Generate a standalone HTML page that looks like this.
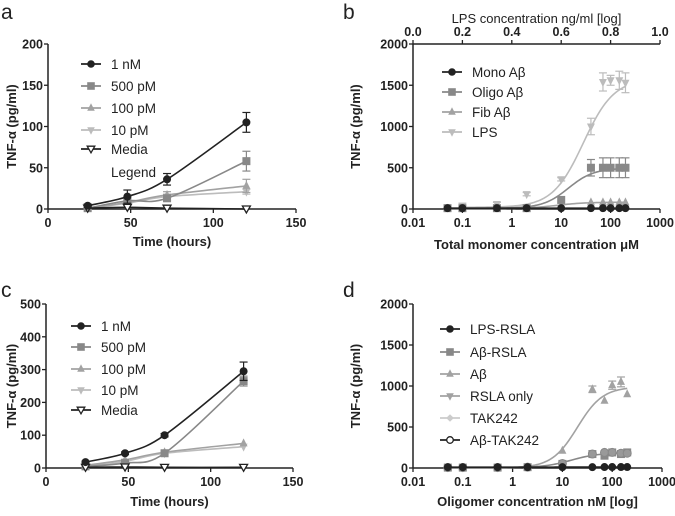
<!DOCTYPE html>
<html><head><meta charset="utf-8"><style>
body{margin:0;background:#fff;width:675px;height:511px;overflow:hidden}
svg text{font-family:"Liberation Sans",sans-serif}
</style></head><body>
<svg id="fig" width="675" height="511" xmlns="http://www.w3.org/2000/svg"></svg>
<script>
// ---------- DATA ----------
const timeX = [24, 48, 72, 120];
const aSeriesNames = ["1 nM", "500 pM", "100 pM", "10 pM", "Media"];
const a1nM = [4, 15, 36, 105];
const a500 = [1, 10, 13, 58];
const a100 = [1, 8, 17, 28];
const a10 = [1, 7, 15, 21];
const aMedia = [1, 2, 1, 0];
const aErr1nM = [2, 8, 7, 12];
const aErr500 = [1, 3, 3, 12];
const aErr100 = [1, 3, 4, 8];
const aErr10 = [1, 2, 3, 3];
const aYTicks = [0, 50, 100, 150, 200];
const aXTicks = [0, 50, 100, 150];

const c1nM = [18, 45, 100, 295];
const c500 = [5, 15, 45, 265];
const c100 = [8, 25, 48, 75];
const c10 = [5, 20, 45, 65];
const cMedia = [2, 3, 2, 2];
const cErr1nM = [3, 4, 5, 28];
const cErr500 = [2, 3, 4, 15];
const cYTicks = [0, 100, 200, 300, 400, 500];

const concX = [0.05, 0.1, 0.5, 2, 10, 40, 70, 100, 150, 200];
const logTicks = [0.01, 0.1, 1, 10, 100, 1000];
const logTickLabels = ["0.01", "0.1", "1", "10", "100", "1000"];
const bYTicks = [0, 500, 1000, 1500, 2000];
const topTicks = ["0.0", "0.2", "0.4", "0.6", "0.8", "1.0"];
const bMono = [10, 10, 10, 10, 10, 10, 10, 10, 10, 10];
const bOligo = [10, 10, 10, 10, 110, 500, 500, 500, 500, 500];
const bFib = [5, 5, 5, 5, 40, 80, 80, 80, 80, 80];
const bLPS = [null, 40, 60, 180, 360, 1000, 1540, 1560, 1560, 1530];
const bErrOligo = [0, 0, 0, 0, 0, 100, 120, 120, 120, 120];
const bErrLPS = [0, 30, 20, 20, 20, 100, 110, 60, 110, 120];
// 4PL fit params [bottom, top, ec50, hill]
const fitLPS = [20, 1580, 28, 1.4];
const fitOligo = [10, 495, 14, 1.7];
const fitFib = [5, 82, 8, 1.5];
const fitMono = [10, 10, 1, 1];

const dLPSRSLA = [10, 10, 10, 10, 10, 10, 12, 12, 12, 12];
const dAbRSLA = [5, 5, 5, 10, 50, 170, 150, 190, 170, 190];
const dAb = [2, 2, 2, 5, 210, 960, 820, 1010, 1050, 900];
const dAbTAK = [5, 5, 5, 10, 55, 170, 190, 190, 180, 180];
const dErrAb = [0, 0, 0, 0, 0, 40, 0, 50, 60, 0];
const fitAb = [2, 990, 20, 1.7];
const fitAbRSLA = [5, 185, 15, 1.6];

// ---------- DRAW ----------
const NS = "http://www.w3.org/2000/svg";
const svg = document.getElementById("fig");
function el(tag, attrs, parent, txt) {
  const e = document.createElementNS(NS, tag);
  for (const k in attrs) e.setAttribute(k, attrs[k]);
  if (txt !== undefined) e.textContent = txt;
  (parent || svg).appendChild(e);
  return e;
}
function marker(g, shape, x, y, col, r) {
  r = r || 4;
  let m;
  if (shape === "circle") m = el("circle", {cx: x, cy: y, r: r, fill: col}, g);
  else if (shape === "ocircle") m = el("circle", {cx: x, cy: y, r: r - 0.5, fill: "#fff", stroke: col, "stroke-width": 1.3}, g);
  else if (shape === "gcircle") m = el("circle", {cx: x, cy: y, r: r, fill: "#999", stroke: "#888", "stroke-width": 1}, g);
  else if (shape === "square") m = el("rect", {x: x - r, y: y - r, width: 2 * r, height: 2 * r, fill: col}, g);
  else if (shape === "tri") m = el("polygon", {points: `${x},${y - r - 1} ${x - r},${y + r - 1} ${x + r},${y + r - 1}`, fill: col}, g);
  else if (shape === "dtri") m = el("polygon", {points: `${x},${y + r + 1} ${x - r},${y - r + 1} ${x + r},${y - r + 1}`, fill: col}, g);
  else if (shape === "odtri") m = el("polygon", {points: `${x},${y + r} ${x - r},${y - r + 1} ${x + r},${y - r + 1}`, fill: "#fff", stroke: col, "stroke-width": 1.3}, g);
  else if (shape === "diamond") m = el("polygon", {points: `${x},${y - r} ${x - r},${y} ${x},${y + r} ${x + r},${y}`, fill: col}, g);
  return m;
}
function smoothPath(pts) {
  let d = `M${pts[0][0]},${pts[0][1]}`;
  for (let i = 0; i < pts.length - 1; i++) {
    const p0 = pts[Math.max(0, i - 1)], p1 = pts[i], p2 = pts[i + 1], p3 = pts[Math.min(pts.length - 1, i + 2)];
    const c1 = [p1[0] + (p2[0] - p0[0]) / 6, p1[1] + (p2[1] - p0[1]) / 6];
    const c2 = [p2[0] - (p3[0] - p1[0]) / 6, p2[1] - (p3[1] - p1[1]) / 6];
    d += ` C${c1[0]},${c1[1]} ${c2[0]},${c2[1]} ${p2[0]},${p2[1]}`;
  }
  return d;
}
function axes(o) {
  const g = el("g", {});
  
  
  el("line", {x1: o.x0, y1: o.y0, x2: o.x0, y2: o.y1, stroke: "#222", "stroke-width": 1.5}, g);
  el("line", {x1: o.x0, y1: o.y0, x2: o.x1, y2: o.y0, stroke: "#222", "stroke-width": 1.5}, g);
  o.yTicks.forEach(v => {
    const y = o.sy(v);
    el("line", {x1: o.x0 - 4, y1: y, x2: o.x0, y2: y, stroke: "#222", "stroke-width": 1.3}, g);
    el("text", {x: o.x0 - 5, y: y + 4.5, "text-anchor": "end", "font-size": 12.5, "font-weight": "bold", fill: "#222"}, g, v);
  });
  o.xTicks.forEach((v, i) => {
    const x = o.sx(v);
    el("line", {x1: x, y1: o.y0, x2: x, y2: o.y0 + 4, stroke: "#222", "stroke-width": 1.3}, g);
    el("text", {x: x, y: o.y0 + 18, "text-anchor": "middle", "font-size": 12.5, "font-weight": "bold", fill: "#222"}, g, o.xLabels ? o.xLabels[i] : v);
  });
  const xt = el("text", {x: (o.x0 + o.x1) / 2, y: o.xTitleY, "text-anchor": "middle", "font-size": 13, "font-weight": "bold", fill: "#222"}, g, o.xTitle);
  
  
  const yc = (o.y0 + o.y1) / 2;
  const yt = el("text", {x: 0, y: 0, transform: `translate(${o.yTitleX},${yc}) rotate(-90)`, "text-anchor": "middle", "font-size": 13, "font-weight": "bold", fill: "#222"}, g, "TNF-α (pg/ml)");
  
  
  const pl = el("text", {x: o.lx, y: o.ly, "font-size": 21, fill: "#222"}, g, o.letter);
  
  
  return g;
}
function legend(items, lx, ys) {
  const g = el("g", {});
  
  
  items.forEach((it, i) => {
    const e = el("g", {}, g);
    
    
    if (it.shape) {
      el("line", {x1: lx, y1: ys[i], x2: lx + 20, y2: ys[i], stroke: it.col, "stroke-width": 1.8}, e);
      marker(e, it.shape, lx + 10, ys[i], it.col, 3.8);
    }
    el("text", {x: lx + 30, y: ys[i] + 5, "font-size": 13.5, fill: "#222"}, e, it.label);
  });
}
function series(name, xs, ys, errs, sx, sy, shape, col, curve) {
  const g = el("g", {});
  
  
  if (curve) el("path", {d: curve, fill: "none", stroke: col, "stroke-width": 1.6}, g);
  xs.forEach((x, i) => {
    if (ys[i] === null) return;
    const px = sx(x), py = sy(ys[i]);
    if (errs && errs[i]) {
      const t = sy(ys[i] + errs[i]), b = sy(Math.max(0, ys[i] - errs[i]));
      el("line", {x1: px, y1: t, x2: px, y2: b, stroke: col, "stroke-width": 1.2}, g);
      el("line", {x1: px - 4, y1: t, x2: px + 4, y2: t, stroke: col, "stroke-width": 1.2}, g);
      el("line", {x1: px - 4, y1: b, x2: px + 4, y2: b, stroke: col, "stroke-width": 1.2}, g);
    }
    const m = marker(g, shape, px, py, col, 4);
    
    
  });
}
function fourPL(p, x) { return p[0] + (p[1] - p[0]) / (1 + Math.pow(p[2] / x, p[3])); }
function fitPath(p, sx, sy, xmin, xmax) {
  const pts = [];
  for (let i = 0; i <= 80; i++) {
    const lx = Math.log10(xmin) + (Math.log10(xmax) - Math.log10(xmin)) * i / 80;
    const x = Math.pow(10, lx);
    pts.push([sx(x), sy(fourPL(p, x))]);
  }
  return "M" + pts.map(q => q.join(",")).join(" L");
}
const C1 = "#222", C2 = "#888", C3 = "#a2a2a2", C4 = "#bcbcbc";

// ---- Panel a ----
{
  const x0 = 48, x1 = 296, y0 = 209, y1 = 44;
  const sx = v => x0 + (x1 - x0) * v / 150, sy = v => y0 - (y0 - y1) * v / 200;
  axes({name: "panel-a-axes", x0, x1, y0, y1, sx, sy, yTicks: aYTicks, xTicks: aXTicks, xTitle: "Time (hours)", xTitleY: 246, yTitleX: 16, letter: "a", lx: 1, ly: 19});
  const sp = ys => smoothPath(timeX.map((t, i) => [sx(t), sy(ys[i])]));
  series("series-10pm", timeX, a10, aErr10, sx, sy, "dtri", C4, sp(a10));
  series("series-100pm", timeX, a100, aErr100, sx, sy, "tri", C3, sp(a100));
  series("series-500pm", timeX, a500, aErr500, sx, sy, "square", C2, sp(a500));
  series("series-media", timeX, aMedia, null, sx, sy, "odtri", C1, sp(aMedia));
  series("series-1nm", timeX, a1nM, aErr1nM, sx, sy, "circle", C1, sp(a1nM));
  legend([{label: "1 nM", shape: "circle", col: C1}, {label: "500 pM", shape: "square", col: C2}, {label: "100 pM", shape: "tri", col: C3}, {label: "10 pM", shape: "dtri", col: C4}, {label: "Media", shape: "odtri", col: C1}, {label: "Legend"}], 81, [64, 86, 108, 130, 149, 172]);
}
// ---- Panel c ----
{
  const x0 = 46, x1 = 293, y0 = 468, y1 = 304;
  const sx = v => x0 + (x1 - x0) * v / 150, sy = v => y0 - (y0 - y1) * v / 500;
  axes({name: "panel-c-axes", x0, x1, y0, y1, sx, sy, yTicks: cYTicks, xTicks: aXTicks, xTitle: "Time (hours)", xTitleY: 506, yTitleX: 16, letter: "c", lx: 1, ly: 297});
  const sp = ys => smoothPath(timeX.map((t, i) => [sx(t), sy(ys[i])]));
  series("series-10pm", timeX, c10, null, sx, sy, "dtri", C4, sp(c10));
  series("series-100pm", timeX, c100, null, sx, sy, "tri", C3, sp(c100));
  series("series-500pm", timeX, c500, cErr500, sx, sy, "square", C2, sp(c500));
  series("series-media", timeX, cMedia, null, sx, sy, "odtri", C1, sp(cMedia));
  series("series-1nm", timeX, c1nM, cErr1nM, sx, sy, "circle", C1, sp(c1nM));
  legend([{label: "1 nM", shape: "circle", col: C1}, {label: "500 pM", shape: "square", col: C2}, {label: "100 pM", shape: "tri", col: C3}, {label: "10 pM", shape: "dtri", col: C4}, {label: "Media", shape: "odtri", col: C1}], 71, [326, 347, 369, 390, 410]);
}
// ---- Panel b ----
{
  const x0 = 413, x1 = 660, y0 = 209, y1 = 44;
  const sx = v => x0 + (x1 - x0) * (Math.log10(v) + 2) / 5, sy = v => y0 - (y0 - y1) * v / 2000;
  axes({name: "panel-b-axes", x0, x1, y0, y1, sx, sy, yTicks: bYTicks, xTicks: logTicks, xLabels: logTickLabels, xTitle: "Total monomer concentration μM", xTitleY: 249, yTitleX: 360, letter: "b", lx: 343, ly: 19});
  const tg = el("g", {});
  
  
  el("line", {x1: x0, y1: y1, x2: x1, y2: y1, stroke: "#222", "stroke-width": 1.5}, tg);
  topTicks.forEach((t, i) => {
    const x = x0 + (x1 - x0) * i / 5;
    el("line", {x1: x, y1: y1, x2: x, y2: y1 - 4, stroke: "#222", "stroke-width": 1.3}, tg);
    el("text", {x: x, y: y1 - 8, "text-anchor": "middle", "font-size": 12.5, "font-weight": "bold", fill: "#222"}, tg, t);
  });
  el("text", {x: (x0 + x1) / 2, y: 23, "text-anchor": "middle", "font-size": 13, fill: "#222"}, tg, "LPS concentration ng/ml [log]");
  series("series-lps", concX, bLPS, bErrLPS, sx, sy, "dtri", C4, fitPath(fitLPS, sx, sy, 0.1, 200));
  series("series-fib-ab", concX, bFib, null, sx, sy, "tri", C3, fitPath(fitFib, sx, sy, 0.05, 200));
  series("series-oligo-ab", concX, bOligo, bErrOligo, sx, sy, "square", C2, fitPath(fitOligo, sx, sy, 0.05, 200));
  series("series-mono-ab", concX, bMono, null, sx, sy, "circle", C1, fitPath(fitMono, sx, sy, 0.05, 200));
  legend([{label: "Mono Aβ", shape: "circle", col: C1}, {label: "Oligo Aβ", shape: "square", col: C2}, {label: "Fib Aβ", shape: "tri", col: C3}, {label: "LPS", shape: "dtri", col: C4}], 442, [72, 92, 112, 132]);
}
// ---- Panel d ----
{
  const x0 = 413, x1 = 662, y0 = 468, y1 = 304;
  const sx = v => x0 + (x1 - x0) * (Math.log10(v) + 2) / 5, sy = v => y0 - (y0 - y1) * v / 2000;
  axes({name: "panel-d-axes", x0, x1, y0, y1, sx, sy, yTicks: bYTicks, xTicks: logTicks, xLabels: logTickLabels, xTitle: "Oligomer concentration nM [log]", xTitleY: 506, yTitleX: 360, letter: "d", lx: 343, ly: 297});
  series("series-ab", concX, dAb, dErrAb, sx, sy, "tri", C3, fitPath(fitAb, sx, sy, 0.05, 200));
  series("series-ab-rsla", concX, dAbRSLA, null, sx, sy, "square", C2, fitPath(fitAbRSLA, sx, sy, 0.05, 200));
  series("series-ab-tak242", concX, dAbTAK, null, sx, sy, "gcircle", "#888", null);
  series("series-lps-rsla", concX, dLPSRSLA, null, sx, sy, "circle", C1, fitPath([10, 12, 10, 1], sx, sy, 0.05, 200));
  legend([{label: "LPS-RSLA", shape: "circle", col: C1}, {label: "Aβ-RSLA", shape: "square", col: C2}, {label: "Aβ", shape: "tri", col: C3}, {label: "RSLA only", shape: "dtri", col: C3}, {label: "TAK242", shape: "diamond", col: "#ccc"}, {label: "Aβ-TAK242", shape: "ocircle", col: C1}], 440, [329, 352, 374, 396, 418, 440]);
}
</script>
</body></html>
